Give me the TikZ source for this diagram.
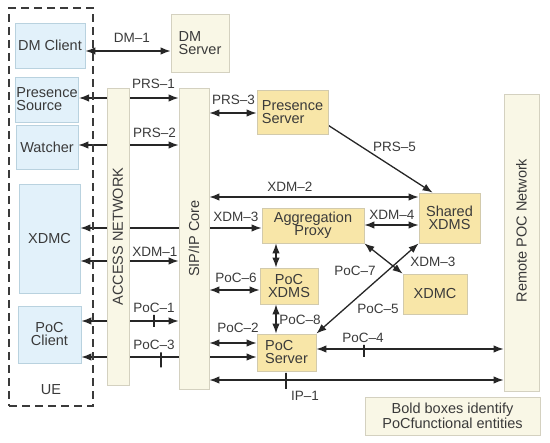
\documentclass[tikz,border=0pt]{standalone}
\usepackage{fontspec}
\usepackage{graphicx}
\setmainfont{Liberation Sans}
\usetikzlibrary{arrows.meta}
\pgfdeclarelayer{background}
\pgfsetlayers{background,main}
\definecolor{clientfill}{HTML}{E2F1FA}
\definecolor{clientline}{HTML}{B9D2DF}
\definecolor{serverfill}{HTML}{F8E6A8}
\definecolor{serverline}{HTML}{D2CAAC}
\definecolor{palefill}{HTML}{F9F7E6}
\definecolor{paleline}{HTML}{D4D1C0}
\definecolor{inkgray}{HTML}{3A3A3A}
\begin{document}
\begin{tikzpicture}[x=1pt, y=-1pt,
    every node/.style={font=\fontsize{14.5}{13}\selectfont, text=inkgray, inner sep=1pt},
    client/.style={draw=clientline, fill=clientfill, line width=0.8pt},
    server/.style={draw=serverline, fill=serverfill, line width=0.8pt},
    pale/.style={draw=paleline, fill=palefill, line width=0.8pt},
    lbl/.style={font=\fontsize{13.5}{13.5}\selectfont},
    link/.style={draw=black!85, line width=1.3pt, {Latex[length=10pt,width=7.5pt]}-{Latex[length=10pt,width=7.5pt]}},
    flow/.style={link, -{Latex[length=10pt,width=7.5pt]}},
    tickmark/.style={draw=black!85, line width=1.1pt, minimum width=0pt, minimum height=12pt, inner sep=0pt}]
  \useasboundingbox (0,0) rectangle (550,443);

  % user equipment
  \node[draw=inkgray, dash pattern=on 8pt off 5pt, line width=1.3pt, minimum width=84pt, minimum height=398pt] (ue) at (51,207) {};
  \node (uelbl) at (51,390) {UE};
  \node[client, minimum width=70pt, minimum height=45pt] (dmc) at (50,45.5) {DM Client};
  \node[client, minimum width=62pt, minimum height=45pt, align=left] (psrc) at (47,99.5) {Presence\\Source};
  \node[client, minimum width=62pt, minimum height=44pt] (wat) at (47,147) {Watcher};
  \node[client, minimum width=61pt, minimum height=109pt] (xdmcl) at (49.5,238.5) {XDMC};
  \node[client, minimum width=63pt, minimum height=57pt, align=center] (pocc) at (49.5,334.5) {PoC\\Client};

  % networks
  \node[pale, minimum width=22pt, minimum height=297pt] (acc) at (118,236.5) {\rotatebox{90}{ACCESS NETWORK}};
  \node[pale, minimum width=30pt, minimum height=301pt] (sip) at (194,238.5) {\rotatebox{90}{SIP/IP Core}};
  \node[pale, minimum width=35pt, minimum height=297pt] (rem) at (521.5,242.5) {\rotatebox{90}{\hspace*{24pt}Remote POC Network}};

  % servers
  \node[pale, minimum width=58pt, minimum height=58pt, align=left] (dms) at (200,43) {DM\\Server};
  \node[server, minimum width=71pt, minimum height=44pt, align=left] (prsrv) at (292.5,112) {Presence\\Server};
  \node[server, minimum width=61pt, minimum height=50pt, align=center] (sxdms) at (449.5,218) {Shared\\XDMS};
  \node[server, minimum width=102pt, minimum height=35pt, align=center] (aggr) at (313,225.5) {Aggregation\\Proxy};
  \node[server, minimum width=58pt, minimum height=36pt, align=center] (pxdms) at (289,286) {PoC\\XDMS};
  \node[server, minimum width=64pt, minimum height=40pt] (xdmcr) at (435,294) {XDMC};
  \node[server, minimum width=59pt, minimum height=37pt, align=left] (pocs) at (286.5,352.5) {PoC\\Server};
  \node[pale, minimum width=175pt, minimum height=38pt, align=center] (note) at (452.5,416) {Bold boxes identify\\PoCfunctional entities};

  % reference points
  \begin{pgfonlayer}{background}
    \draw[link] (dmc.east |- 0,51) -- (dms.west |- 0,51);
    \draw[link] (psrc.east |- 0,98) -- (sip.west |- 0,98);
    \draw[link] (wat.east |- 0,145) -- (sip.west |- 0,145);
    \draw[link] (xdmcl.east |- 0,228) -- (aggr.west |- 0,228);
    \draw[link] (xdmcl.east |- 0,261) -- (sip.west |- 0,261);
    \draw[link] (pocc.east |- 0,321) -- (sip.west |- 0,321);
    \draw[link] (pocc.east |- 0,357) -- (pocs.west |- 0,357);
    \draw[link] (sip.east |- 0,113) -- (prsrv.west |- 0,113);
    \draw[link] (sip.east |- 0,197) -- (sxdms.west |- 0,197);
    \draw[link] (sip.east |- 0,290) -- (pxdms.west |- 0,290);
    \draw[link] (sip.east |- 0,343) -- (pocs.west |- 0,343);
    \draw[link] (sip.east |- 0,380) -- (rem.west |- 0,380);
    \draw[link] (pocs.east |- 0,349) -- (rem.west |- 0,349);
    \draw[link] (aggr.east |- 0,225) -- (sxdms.west |- 0,225);
    \draw[link] (aggr.south -| 276,0) -- (pxdms.north -| 276,0);
    \draw[link] (pxdms.south -| 276,0) -- (pocs.north -| 276,0);
    \draw[link] (aggr.south east) -- (xdmcr.north west);
    \draw[link] (sxdms.south west) -- (pocs.north east);
    \draw[flow] ([yshift=9pt]prsrv.south east) -- ([xshift=14pt]sxdms.north west);
  \end{pgfonlayer}
  \node[tickmark] (t1) at (154,321) {};
  \node[tickmark, minimum height=15pt] (t3) at (161,360) {};
  \node[tickmark] (t4) at (364,351) {};
  \node[tickmark, minimum height=16pt] (t5) at (286,381) {};

  % labels
  \node[lbl] (ldm1) at (132,38) {DM--1};
  \node[lbl] (lprs1) at (153.5,83.5) {PRS--1};
  \node[lbl] (lprs2) at (154.5,133) {PRS--2};
  \node[lbl] (lprs3) at (233.5,100) {PRS--3};
  \node[lbl] (lprs5) at (394.5,147) {PRS--5};
  \node[lbl] (lxdm2) at (290,187) {XDM--2};
  \node[lbl] (lxdm3a) at (236,217) {XDM--3};
  \node[lbl] (lxdm1) at (155,252) {XDM--1};
  \node[lbl] (lxdm4) at (392,215) {XDM--4};
  \node[lbl] (lxdm3b) at (433,262) {XDM--3};
  \node[lbl] (lpoc1) at (154,308) {PoC--1};
  \node[lbl] (lpoc2) at (238,328) {PoC--2};
  \node[lbl] (lpoc3) at (154,345) {PoC--3};
  \node[lbl] (lpoc4) at (363,338) {PoC--4};
  \node[lbl] (lpoc5) at (378,309) {PoC--5};
  \node[lbl] (lpoc6) at (236,278) {PoC--6};
  \node[lbl] (lpoc7) at (355,271) {PoC--7};
  \node[lbl] (lpoc8) at (300,320) {PoC--8};
  \node[lbl] (lip1) at (305,396) {IP--1};
\end{tikzpicture}
\end{document}
